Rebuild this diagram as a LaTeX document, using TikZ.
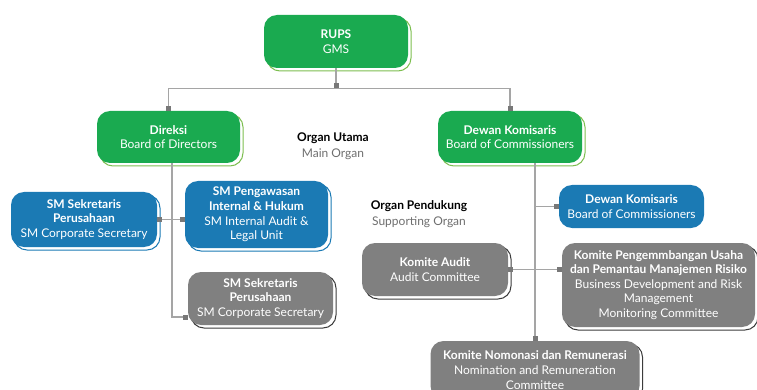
\documentclass[tikz,border=0pt]{standalone}
\usepackage{fontspec}
\setmainfont{Lato}
\usetikzlibrary{arrows.meta,shadows}
\definecolor{grn}{RGB}{26,170,80}
\definecolor{grnl}{RGB}{125,190,80}
\definecolor{blu}{RGB}{27,122,180}
\definecolor{gry}{RGB}{128,128,128}
\definecolor{gryd}{RGB}{60,60,60}
\definecolor{lnk}{RGB}{165,165,165}
\definecolor{sqc}{RGB}{120,120,120}
\definecolor{subt}{RGB}{110,110,110}

\begin{document}
\begin{tikzpicture}[x=1pt,y=-1pt,>={Square[length=5pt,width=5pt,color=sqc]},
  box/.style={rounded corners=13pt,text=white,align=center,inner sep=1pt,font=\fontsize{12}{14.6}\selectfont},
  gbox/.style={box,fill=grn,copy shadow={shadow xshift=3pt,shadow yshift=-3pt,fill=white,draw=grnl,line width=1pt}},
  bbox/.style={box,fill=blu,copy shadow={shadow xshift=3pt,shadow yshift=-3pt,fill=white,draw=blu,line width=1pt}},
  nbox/.style={box,fill=blu},
  kbox/.style={box,fill=gry,copy shadow={shadow xshift=3pt,shadow yshift=-3pt,fill=white,draw=gryd,line width=1pt}},
  lbl/.style={align=center,font=\fontsize{12}{16}\selectfont},
  conn/.style={draw=lnk,line width=1.3pt}]
  \path[use as bounding box,clip] (0,0) rectangle (757,390);
  \node[gbox,minimum width=144pt,minimum height=53pt] (rups) at (336,41.5) {\textbf{RUPS}\\GMS};
  \node[gbox,minimum width=143pt,minimum height=52pt] (direksi) at (168.5,137) {\textbf{Direksi}\\Board of Directors};
  \node[gbox,minimum width=144pt,minimum height=52pt] (dekom) at (510,137) {\textbf{Dewan Komisaris}\\Board of Commissioners};
  \node[lbl] (utama) at (333,146) {\textbf{Organ Utama}\\\textcolor{subt}{Main Organ}};
  \node[lbl] (pendukung) at (419,214) {\textbf{Organ Pendukung}\\\textcolor{subt}{Supporting Organ}};
  \node[bbox,minimum width=146pt,minimum height=55pt] (smsek) at (84,219.5) {\textbf{SM Sekretaris}\\\textbf{Perusahaan}\\SM Corporate Secretary};
  \node[bbox,minimum width=143pt,minimum height=67pt] (smpih) at (256.5,214.5) {\textbf{SM Pengawasan}\\\textbf{Internal \& Hukum}\\SM Internal Audit \&\\Legal Unit};
  \node[kbox,minimum width=145pt,minimum height=53pt] (smsekk) at (260.5,298.5) {\textbf{SM Sekretaris}\\\textbf{Perusahaan}\\SM Corporate Secretary};
  \node[nbox,minimum width=145pt,minimum height=43pt] (dekomk) at (631.5,206.5) {\textbf{Dewan Komisaris}\\Board of Commissioners};
  \node[kbox,minimum width=146pt,minimum height=53pt] (audit) at (435,269.5) {\textbf{Komite Audit}\\Audit Committee};
  \node[kbox,minimum width=193pt,minimum height=84pt] (kpu) at (658.5,285) {\textbf{Komite Pengemmbangan Usaha}\\\textbf{dan Pemantau Manajemen Risiko}\\Business Development and Risk\\Management\\Monitoring Committee};
  \node[kbox,minimum width=209pt,minimum height=58pt] (knr) at (535,370) {\textbf{Komite Nomonasi dan Remunerasi}\\Nomination and Remuneration\\Committee};
  \draw[conn,->] (rups.south) -- ++(0,20) coordinate (bar);
  \draw[conn,->] (bar) -| (direksi.north);
  \draw[conn,->] (bar) -| (dekom.north);
  \draw[conn,->] ([xshift=3.5pt]direksi.south) |- ([yshift=-18.5pt]smsekk.west);
  \draw[conn,<->] (smsek.east) -- (smsek.east -| smpih.west);
  \draw[conn,->] (dekom.south -| knr.north) -- (knr.north);
  \draw[conn,->] (dekomk.west -| knr.north) -- (dekomk.west);
  \draw[conn,<->] (audit.east) -- (audit.east -| kpu.west);
\end{tikzpicture}
\end{document}
